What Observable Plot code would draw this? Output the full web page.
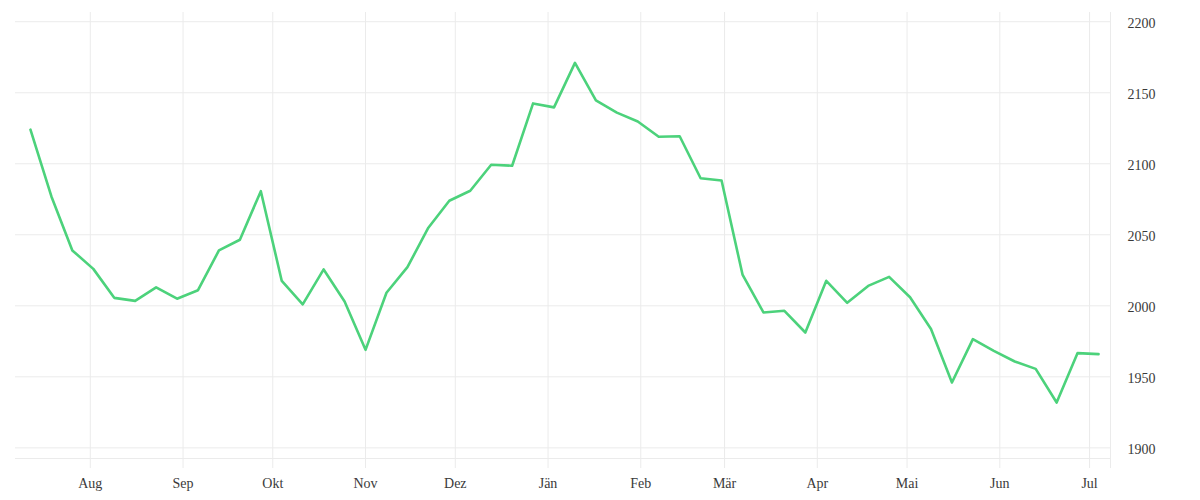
<!DOCTYPE html>
<html><head><meta charset="utf-8">
<script src="https://cdn.jsdelivr.net/npm/d3@7"></script>
<script src="https://cdn.jsdelivr.net/npm/@observablehq/plot@0.6"></script>
<style>body{margin:0;background:#fff;} #chart{width:1200px;height:500px;}</style>
</head><body><div id="chart"></div>
<script>
const dates = ["2022-07-12","2022-07-19","2022-07-26","2022-08-02","2022-08-09","2022-08-16","2022-08-23","2022-08-30",
"2022-09-06","2022-09-13","2022-09-20","2022-09-27","2022-10-04","2022-10-11","2022-10-18","2022-10-25",
"2022-11-01","2022-11-08","2022-11-15","2022-11-22","2022-11-29","2022-12-06","2022-12-13","2022-12-20","2022-12-27",
"2023-01-03","2023-01-10","2023-01-17","2023-01-24","2023-01-31","2023-02-07","2023-02-14","2023-02-21","2023-02-28",
"2023-03-07","2023-03-14","2023-03-21","2023-03-28","2023-04-04","2023-04-11","2023-04-18","2023-04-25",
"2023-05-02","2023-05-09","2023-05-16","2023-05-23","2023-05-30","2023-06-06","2023-06-13","2023-06-20","2023-06-27","2023-07-04"];
const values = [2124,2077,2039,2026,2005.6,2003.5,2013,2005,2011,2039,2046.5,2080.7,2017.5,2001,2025.6,2003,
1969,2009.2,2027.2,2055,2074,2081,2099.3,2098.6,2142.5,2139.7,2171,2144.6,2136,2129.8,2119,2119.4,2089.8,2088.2,
2022,1995.3,1996.5,1981.2,2017.6,2002.1,2014,2020.4,2006,1983.7,1946,1976.5,1968.3,1960.8,1955.6,1931.9,1966.7,1966];
const monthTickDates = ["2022-08-01","2022-09-01","2022-10-01","2022-11-01","2022-12-01","2023-01-01","2023-02-01","2023-03-01","2023-04-01","2023-05-01","2023-06-01","2023-07-01"];
const monthLabels = ["Aug","Sep","Okt","Nov","Dez","Jän","Feb","Mär","Apr","Mai","Jun","Jul"];
const yTicks = [1900,1950,2000,2050,2100,2150,2200];
const xDomain = ["2022-07-07","2023-07-08"];
const yDomain = [1892.5,2206.5];

const data = dates.map((d,i)=>({date:new Date(d), value:values[i]}));
const xDom = xDomain.map(d=>new Date(d));
const monthTicks = monthTickDates.map(d=>new Date(d));
const labelMap = new Map(monthTicks.map((d,i)=>[+d, monthLabels[i]]));
const xTicks = [...monthTicks, xDom[1]];
const grid = "#ebebeb";

const chart = Plot.plot({
  width:1200, height:500,
  marginTop:12, marginBottom:42, marginLeft:15, marginRight:90,
  style:{fontFamily:"'Liberation Serif', serif", fontSize:"14px", color:"#3a3a3a", background:"#fff"},
  x:{type:"utc", domain:xDom},
  y:{domain:yDomain},
  marks:[
    Plot.gridY(yTicks,{stroke:grid, strokeOpacity:1, strokeWidth:1}),
    Plot.gridX(xTicks,{stroke:grid, strokeOpacity:1, strokeWidth:1}),
    Plot.ruleY([yDomain[0]],{stroke:grid, strokeWidth:1}),
    Plot.axisX(xTicks,{anchor:"bottom", tickSize:10, tickPadding:10, stroke:grid, strokeOpacity:1, fill:"#3a3a3a",
      tickFormat:d=>labelMap.get(+d) ?? "", label:null}),
    Plot.axisY(yTicks,{anchor:"right", tickSize:0, tickPadding:17, dy:2, fill:"#3a3a3a", label:null, tickFormat:d=>String(d)}),
    Plot.line(data,{x:"date", y:"value", stroke:"#4cd27b", strokeWidth:2.6, strokeLinejoin:"round"})
  ]
});
document.getElementById("chart").append(chart);
</script>
</body></html>
